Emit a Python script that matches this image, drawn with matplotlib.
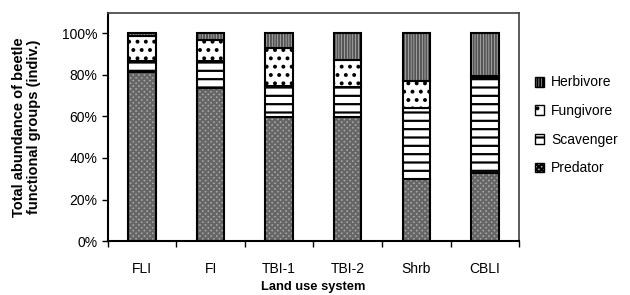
import matplotlib.pyplot as plt
import numpy as np

plt.rcParams['font.family'] = ['Liberation Sans', 'DejaVu Sans']
plt.rcParams['hatch.linewidth'] = 1.6

systems = ['FLI', 'FI', 'TBI-1', 'TBI-2', 'Shrb', 'CBLI']
predator = [81.6, 73.6, 59.6, 59.6, 30.1, 32.9]
scavenger = [4.9, 12.9, 15.1, 14.5, 34.2, 45.6]
fungivore = [12.5, 10.1, 18.2, 13.2, 12.7, 1.2]
herbivore = [1.0, 3.4, 7.1, 12.7, 23.0, 20.3]

groups = ['Predator', 'Scavenger', 'Fungivore', 'Herbivore']
values = [predator, scavenger, fungivore, herbivore]
faces = ['#a8a8a8', 'white', 'white', '#d8d8d8']
hatch_cols = ['#666666', 'black', 'black', '#555555']
hatches = ['xxxxxx', '--', '..', '||||||']

fig = plt.figure(figsize=(6.3, 2.95), dpi=100)
ax = fig.add_axes([0.171, 0.183, 0.653, 0.774])

x = np.arange(len(systems))
w = 0.4
bottom = np.zeros(len(systems))
handles = []
for name, vals, fc, hc, h in zip(groups, values, faces, hatch_cols, hatches):
    v = np.array(vals) / 100.0
    ax.bar(x, v, w, bottom=bottom, color=fc, edgecolor=hc, hatch=h, lw=0)
    ax.bar(x, v, w, bottom=bottom, fill=False, edgecolor='black', lw=1.5)
    hb = ax.bar([0], [0], color=fc, edgecolor='black', hatch=h, lw=1.0)
    handles.append((hb, name))
    bottom += v

ax.set_xlim(-0.5, len(systems) - 0.5)
ax.set_ylim(0, 1.1)
ticks = np.arange(0, 1.01, 0.2)
ax.set_yticks(ticks)
ax.set_yticklabels(['%d%%' % round(t * 100) for t in ticks], fontsize=10)
ax.set_xticks(x)
ax.set_xticklabels(systems, fontsize=10)
ax.set_xticks(np.arange(-0.5, len(systems)), minor=True)
ax.tick_params(axis='x', which='major', length=0, pad=15)
ax.tick_params(axis='x', which='minor', length=4, width=1, direction='out')
ax.tick_params(axis='y', length=4, width=1, direction='out')
for s in ['left', 'bottom']:
    ax.spines[s].set_linewidth(1.5)
for s in ['top', 'right']:
    ax.spines[s].set_linewidth(1.2)
    ax.spines[s].set_color('#404040')

ax.set_xlabel('Land use system', fontsize=9.3, fontweight='bold', labelpad=4)
ax.set_ylabel('Total abundance of beetle\nfunctional groups (indiv.)', fontsize=10.5,
              fontweight='bold', labelpad=15, linespacing=1.1)

# legend in reverse stacking order, like the original
leg = fig.legend([hh[0] for hh in handles[::-1]], [hh[1] for hh in handles[::-1]],
                 loc='center left', bbox_to_anchor=(0.83, 0.575), frameon=False,
                 fontsize=10, handlelength=0.65, handleheight=0.7, handletextpad=0.5,
                 labelspacing=1.05)

fig.savefig('out.png', dpi=100)
